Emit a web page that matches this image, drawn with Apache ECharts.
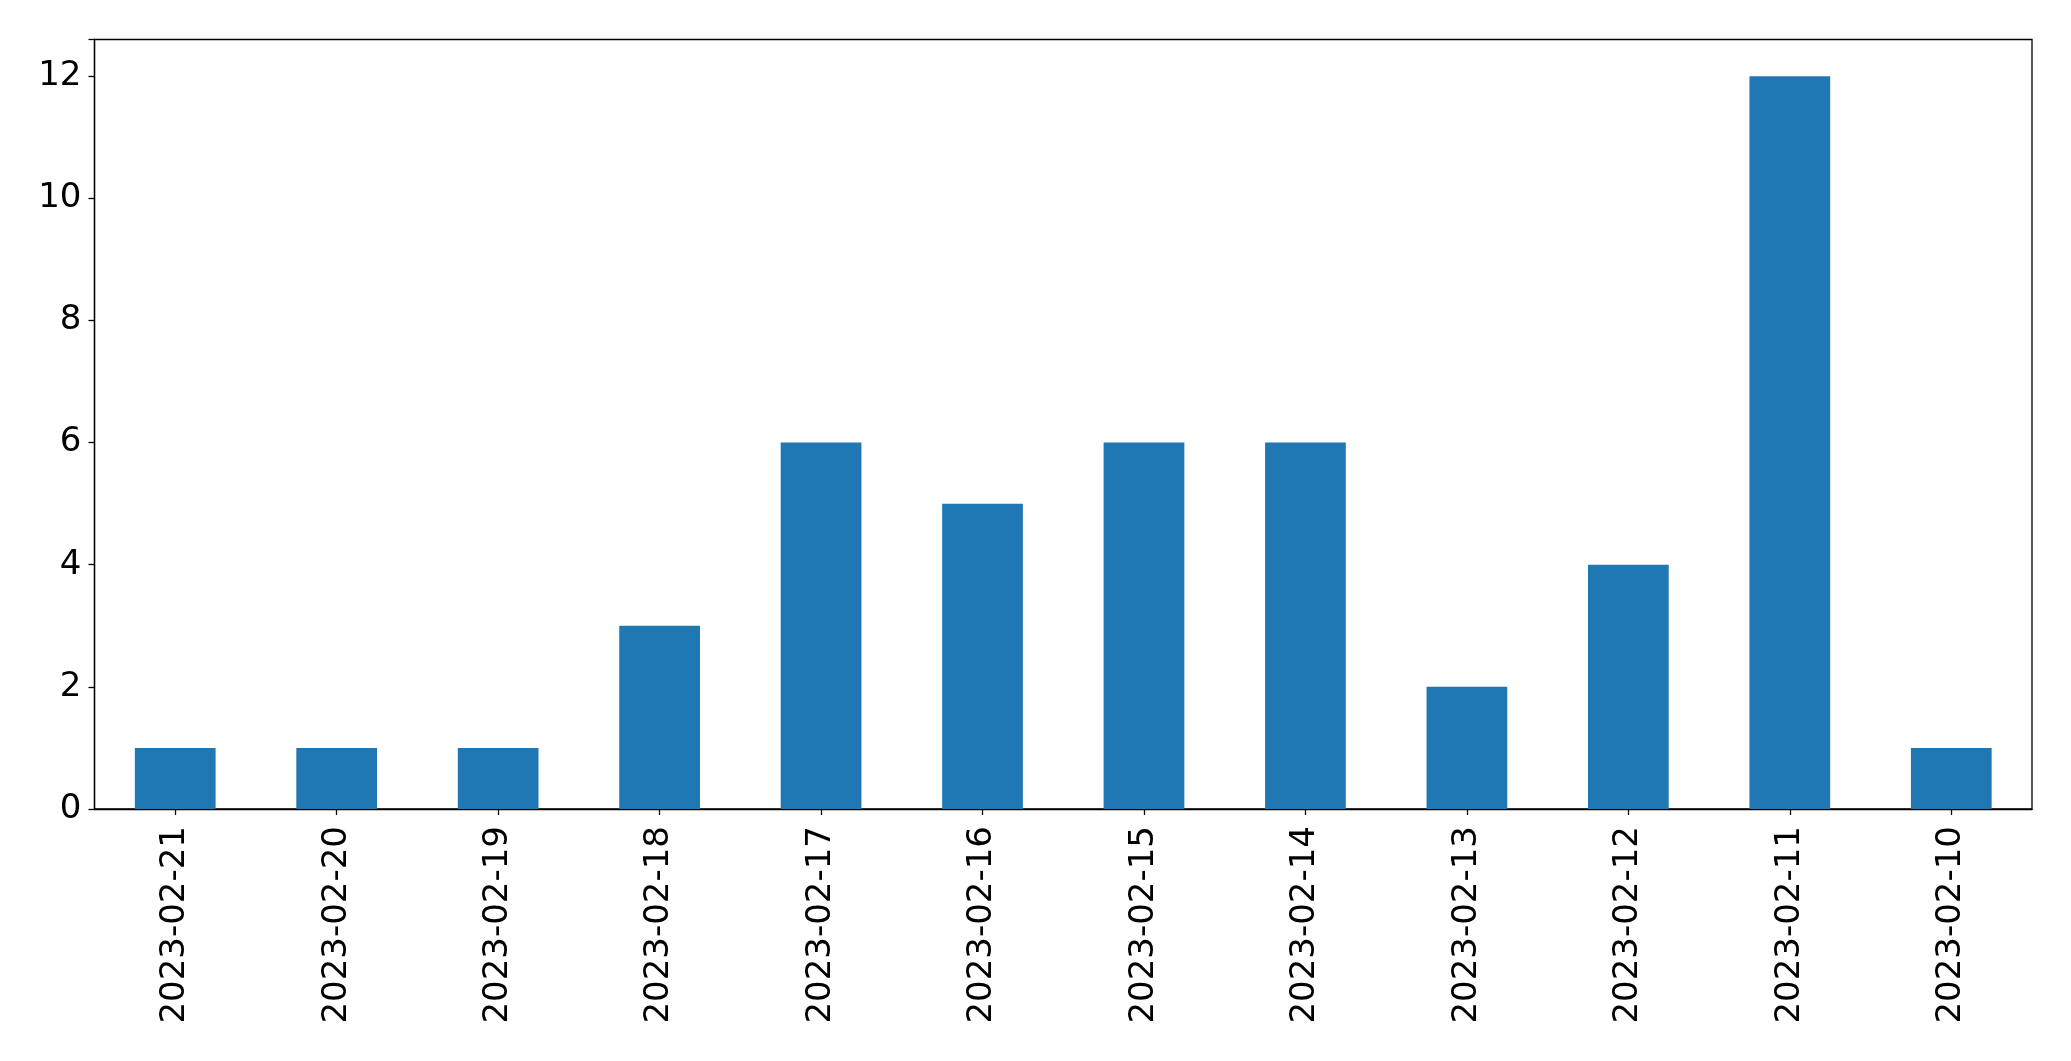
<!DOCTYPE html>
<html>
<head>
<meta charset="utf-8">
<script src="https://cdn.jsdelivr.net/npm/echarts@6/dist/echarts.min.js"></script>
<style>html,body{margin:0;padding:0;background:#fff;}#c{width:2071px;height:1061px;}</style>
</head>
<body>
<div id="c"></div>
<script>
const categories = ['2023-02-21','2023-02-20','2023-02-19','2023-02-18','2023-02-17','2023-02-16','2023-02-15','2023-02-14','2023-02-13','2023-02-12','2023-02-11','2023-02-10'];
const values = [1, 1, 1, 3, 6, 5, 6, 6, 2, 4, 12, 1];
const yTicks = [0, 2, 4, 6, 8, 10, 12];

const chart = echarts.init(document.getElementById('c'), null, {renderer: 'canvas'});
const font = 'DejaVu Sans';
chart.setOption({
  animation: false,
  backgroundColor: '#ffffff',
  grid: {
    left: 94.5, right: 2071 - 2032, top: 39.5, bottom: 1061 - 809,
    show: true, borderColor: '#000000', borderWidth: 1.3, backgroundColor: 'transparent'
  },
  xAxis: {
    type: 'category',
    data: categories,
    boundaryGap: true,
    axisLine: {show: true, lineStyle: {color: '#000', width: 1.3}},
    axisTick: {show: true, alignWithLabel: true, length: 6, lineStyle: {color: '#000', width: 1.3}},
    axisLabel: {rotate: 90, margin: 17, fontFamily: font, fontSize: 34, color: '#000', interval: 0},
    splitLine: {show: false}
  },
  yAxis: {
    type: 'value',
    min: 0, max: 12.6, interval: 2,
    axisLine: {show: true, lineStyle: {color: '#000', width: 1.3}},
    axisTick: {show: true, length: 6, lineStyle: {color: '#000', width: 1.3}},
    axisLabel: {
      margin: 13, fontFamily: font, fontSize: 34, color: '#000',
      formatter: function (v) { return yTicks.indexOf(v) >= 0 ? String(v) : ''; }
    },
    splitLine: {show: false}
  },
  series: [{
    type: 'bar',
    data: values,
    barWidth: '50%',
    itemStyle: {color: '#1f77b4'}
  }]
});
</script>
</body>
</html>
